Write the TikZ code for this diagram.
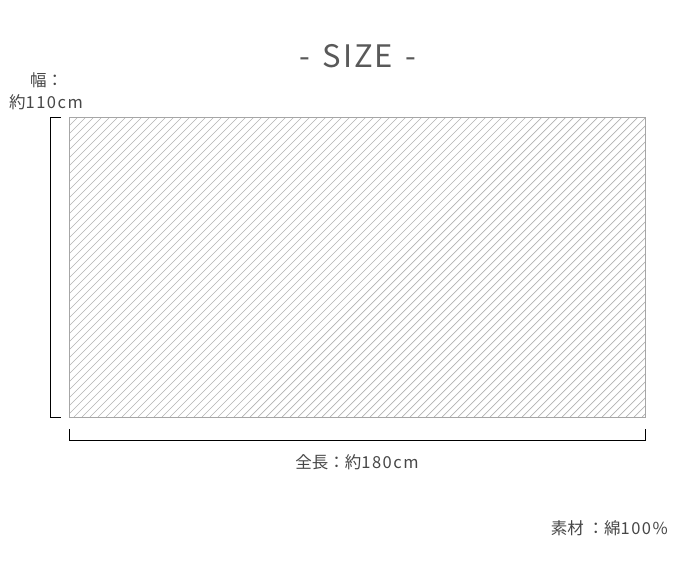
\documentclass[tikz,border=0pt]{standalone}
\usepackage{fontspec}
\setmainfont{Noto Sans CJK JP}
\newfontfamily\latn[LetterSpace=9]{Noto Sans CJK JP}
\newfontfamily\ttl[LetterSpace=6]{Noto Sans CJK JP}
\begin{document}
\begin{tikzpicture}[x=1pt,y=-1pt,
  txt/.style={text=black!72, inner sep=0pt},
  bracket/.style={draw=black, line width=1pt},
  hatch/.style={draw=black!30, line width=0.7pt}]
\useasboundingbox (0,0) rectangle (699,583);
\coordinate (r1) at (69,118);
\coordinate (r2) at (645,417);
\begin{scope}
\clip (r1) rectangle (r2);
\foreach \c in {187,195,...,1070}{
  \draw[hatch] (\c-118,118) -- (\c-417,417);
}
\end{scope}
\draw[draw=black!35, line width=1pt] (r1) rectangle (r2);
\coordinate (v1) at (61,118);
\coordinate (v2) at (50,118);
\coordinate (v3) at (50,417);
\coordinate (v4) at (61,417);
\draw[bracket] (v1) -- (v2) -- (v3) -- (v4);
\coordinate (h1) at (69,429);
\coordinate (h2) at (69,440);
\coordinate (h3) at (645,440);
\coordinate (h4) at (645,429);
\draw[bracket] (h1) -- (h2) -- (h3) -- (h4);
\node[txt, text=black!65, font=\fontsize{31}{31}\selectfont\ttl] (title) at (358,56) {-\hspace{0.4em}SIZE\hspace{0.4em}-};
\node[txt, font=\fontsize{16.5}{16.5}\selectfont, anchor=west] (w1) at (30,80) {幅：};
\node[txt, font=\fontsize{16.5}{16.5}\selectfont, anchor=west] (w2) at (9,102) {約{\latn 110cm}};
\node[txt, font=\fontsize{16.5}{16.5}\selectfont] (len) at (357,462) {全長：約{\latn 180cm}};
\node[txt, font=\fontsize{16.5}{16.5}\selectfont, anchor=east] (mat) at (668,528) {素材 ：綿{\latn 100\%}};
\end{tikzpicture}
\end{document}
